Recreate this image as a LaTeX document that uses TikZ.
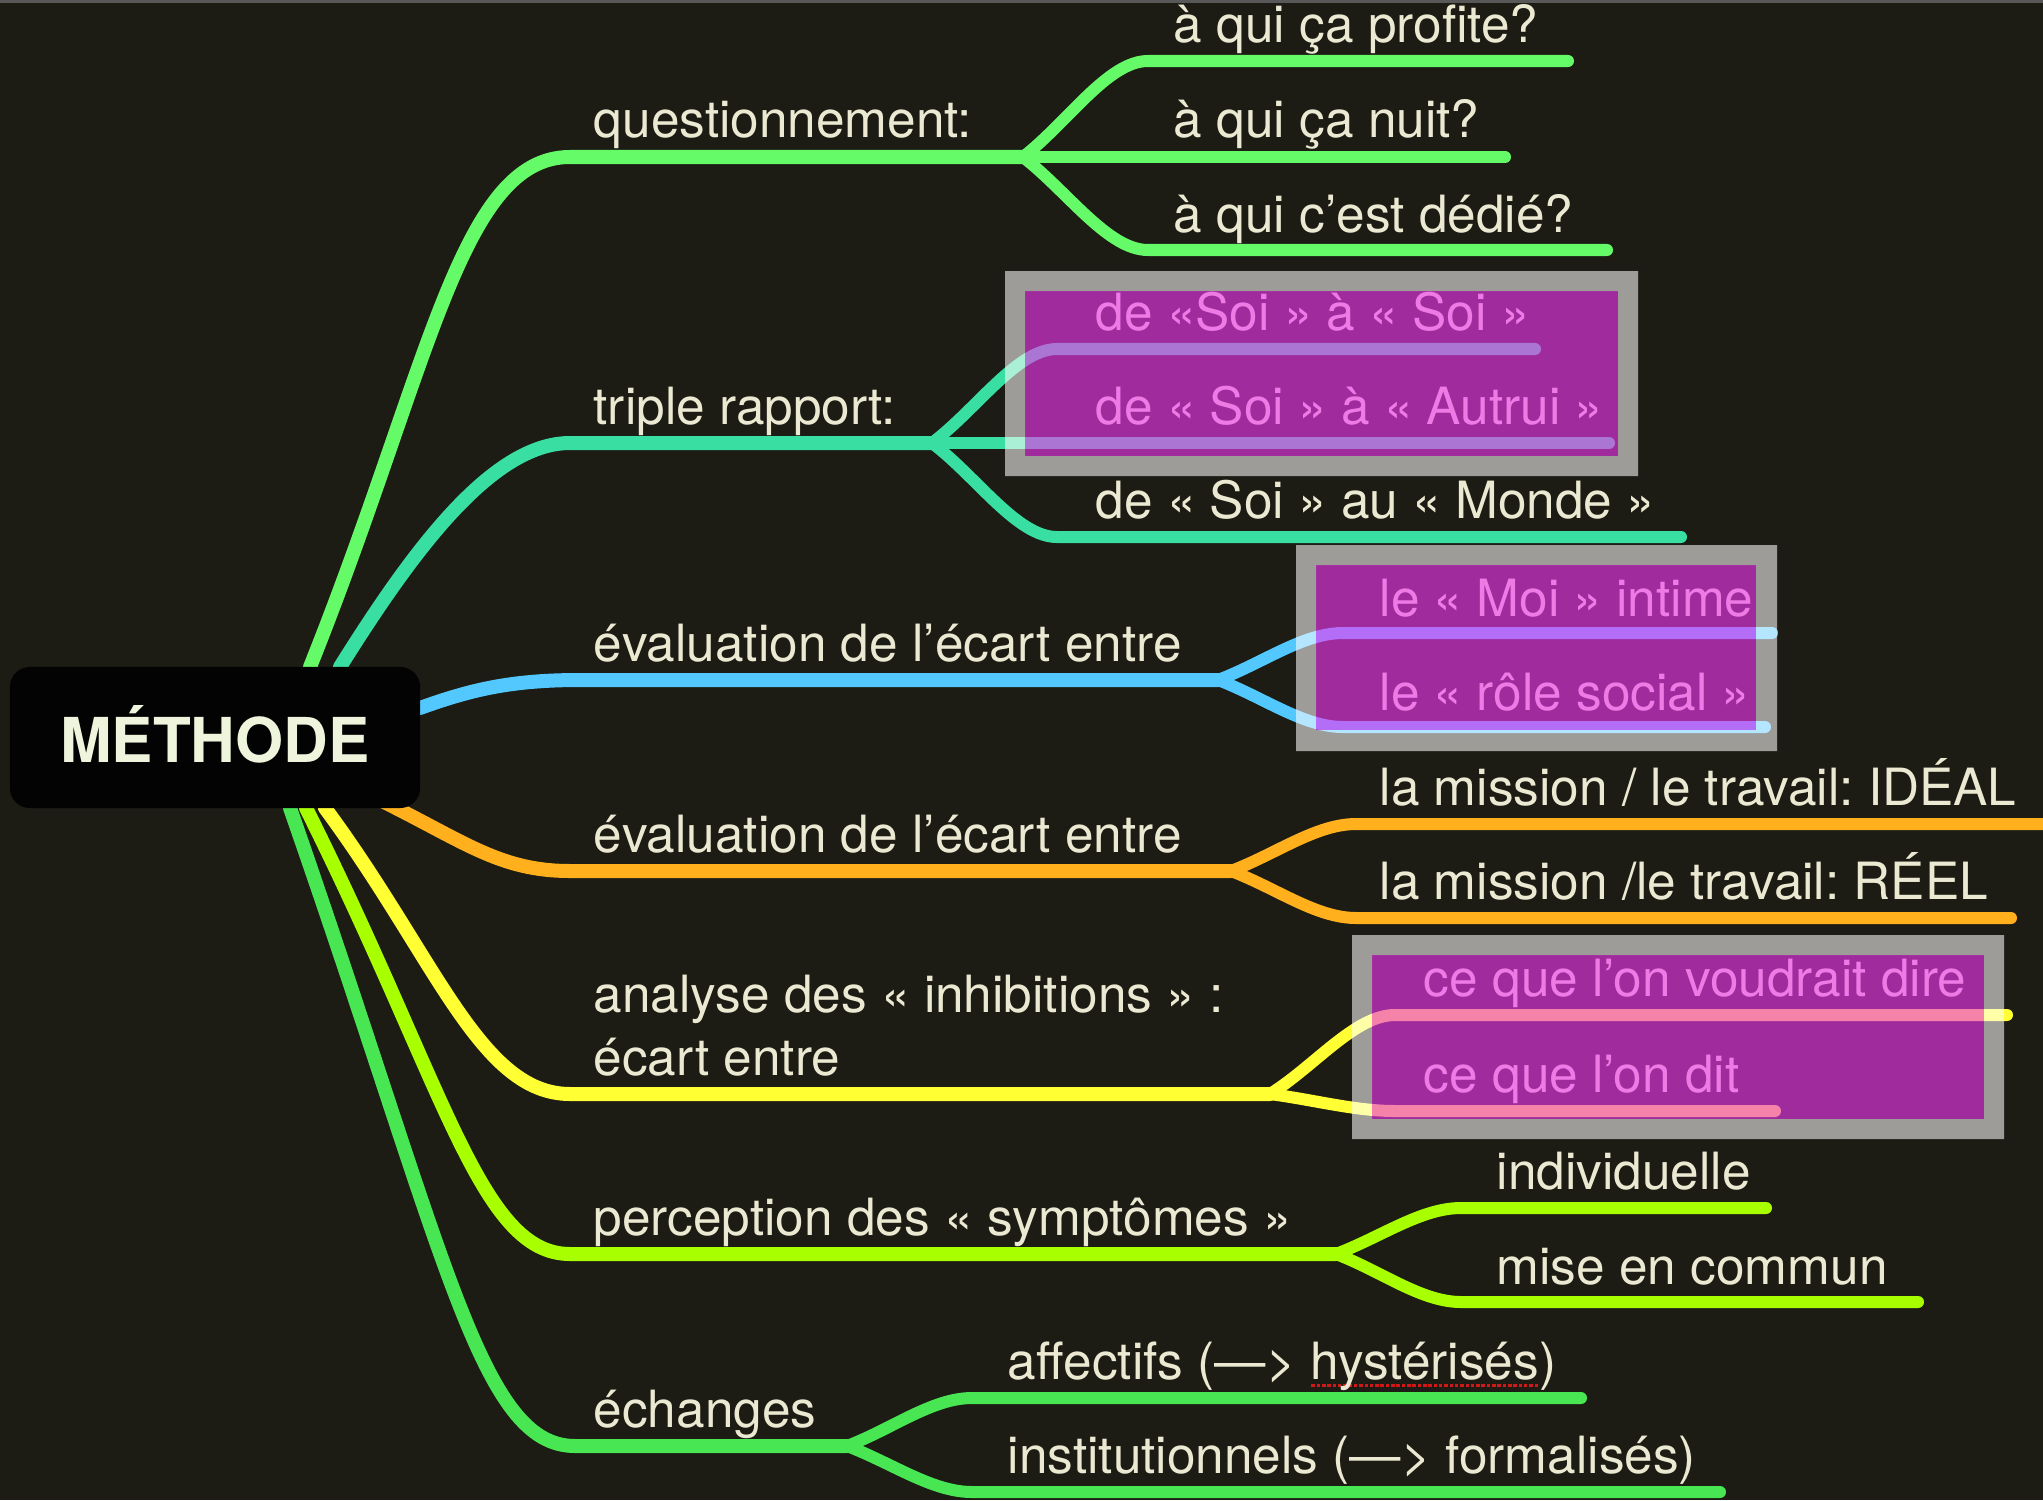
\documentclass[tikz,border=0pt]{standalone}
\usepackage{fontspec}
\setmainfont{TeX Gyre Heros}
\frenchspacing

\definecolor{bg}{HTML}{1C1B14}
\definecolor{topline}{HTML}{585858}
\definecolor{cream}{HTML}{ECE9D2}
\definecolor{titlecream}{HTML}{EFF5DC}
\definecolor{rootblack}{HTML}{030303}
\definecolor{cquest}{HTML}{64FA68}
\definecolor{ctriple}{HTML}{38DEA2}
\definecolor{cecartA}{HTML}{52C8FF}
\definecolor{cecartB}{HTML}{FFB01C}
\definecolor{cinhib}{HTML}{FFFF33}
\definecolor{csympt}{HTML}{A8FF00}
\definecolor{cechang}{HTML}{48E652}
\definecolor{hlpurple}{HTML}{F036F2}
\definecolor{spellred}{HTML}{D01818}

\newcommand{\spellerr}[1]{\setbox0\hbox{#1}\rlap{\color{spellred}\raisebox{-2.4pt}{\hbox to \wd0{\xleaders\hbox to 1.5pt{\hss\rule{1pt}{1pt}\hss}\hfill}}}#1}

\begin{document}
\begin{tikzpicture}[x=0.01cm, y=-0.01cm,
  main/.style={line width=0.14cm, line cap=round},
  sub/.style={line width=0.12cm, line cap=round},
  lbl/.style={anchor=base west, inner sep=0pt, text=cream, font=\fontsize{14.6}{18}\selectfont},
  hlframe/.style={fill=white, opacity=0.57, even odd rule},
  hlfill/.style={fill=hlpurple, opacity=0.62}]
\useasboundingbox (0,0) rectangle (2043,1500);
\fill[bg] (0,0) rectangle (2043,1500);
\fill[topline] (0,0) rectangle (2043,3);

\coordinate (r1) at (310,667);
\coordinate (r2) at (340,667);
\coordinate (r3) at (420,708);
\coordinate (r4) at (380,800);
\coordinate (r5) at (325,808);
\coordinate (r6) at (306,808);
\coordinate (r7) at (290,808);

\coordinate (quest) at (1023,157);
\coordinate (profite) at (1568,61);
\coordinate (nuit) at (1505,157);
\coordinate (dedie) at (1607,250);
\path[draw,main,cquest] (r1) .. controls (430,367) and (460,157) .. (570,157) -- (quest);
\path[draw,sub,cquest] (quest) .. controls (1068,122) and (1108,61) .. (1148,61) -- (profite);
\path[draw,sub,cquest] (quest) -- (nuit);
\path[draw,sub,cquest] (quest) .. controls (1068,192) and (1108,250) .. (1148,250) -- (dedie);

\coordinate (triple) at (932,443);
\coordinate (soi) at (1535,349);
\coordinate (autrui) at (1609,443);
\coordinate (monde) at (1681,537);
\path[draw,main,ctriple] (r2) .. controls (409,557) and (490,443) .. (570,443) -- (triple);
\path[draw,sub,ctriple] (triple) .. controls (977,409) and (1017,349) .. (1057,349) -- (soi);
\path[draw,sub,ctriple] (triple) -- (autrui);
\path[draw,sub,ctriple] (triple) .. controls (977,477) and (1017,537) .. (1057,537) -- (monde);

\coordinate (ecartA) at (1218,680);
\coordinate (moi) at (1772,633);
\coordinate (role) at (1765,727);
\path[draw,main,cecartA] (r3) .. controls (470,690) and (510,680) .. (580,680) -- (ecartA);
\path[draw,sub,cecartA] (ecartA) .. controls (1263,663) and (1303,633) .. (1343,633) -- (moi);
\path[draw,sub,cecartA] (ecartA) .. controls (1263,697) and (1303,727) .. (1343,727) -- (role);

\coordinate (ecartB) at (1231,871);
\coordinate (ideal) at (2060,824);
\coordinate (reel) at (2011,918);
\path[draw,main,cecartB] (r4) .. controls (465,842) and (500,871) .. (570,871) -- (ecartB);
\path[draw,sub,cecartB] (ecartB) .. controls (1276,854) and (1316,824) .. (1356,824) -- (ideal);
\path[draw,sub,cecartB] (ecartB) .. controls (1276,888) and (1316,918) .. (1356,918) -- (reel);

\coordinate (inhib) at (1270,1094);
\coordinate (voudrait) at (2007,1015);
\coordinate (dit) at (1775,1111);
\path[draw,main,cinhib] (r5) .. controls (436,958) and (480,1094) .. (570,1094) -- (inhib);
\path[draw,sub,cinhib] (inhib) .. controls (1315,1066) and (1355,1015) .. (1395,1015) -- (voudrait);
\path[draw,sub,cinhib] (inhib) .. controls (1315,1100) and (1355,1111) .. (1395,1111) -- (dit);

\coordinate (sympt) at (1336,1254);
\coordinate (indiv) at (1766,1208);
\coordinate (commun) at (1918,1302);
\path[draw,main,csympt] (r6) .. controls (446,1088) and (480,1254) .. (570,1254) -- (sympt);
\path[draw,sub,csympt] (sympt) .. controls (1381,1237) and (1421,1208) .. (1461,1208) -- (indiv);
\path[draw,sub,csympt] (sympt) .. controls (1381,1271) and (1421,1302) .. (1461,1302) -- (commun);

\coordinate (echang) at (847,1446);
\coordinate (affect) at (1581,1398);
\coordinate (instit) at (1720,1492);
\path[draw,main,cechang] (r7) .. controls (447,1258) and (480,1446) .. (575,1446) -- (echang);
\path[draw,sub,cechang] (echang) .. controls (892,1429) and (932,1398) .. (972,1398) -- (affect);
\path[draw,sub,cechang] (echang) .. controls (892,1463) and (932,1492) .. (972,1492) -- (instit);

\node[lbl] (tquest) at (593,138) {questionnement:};
\node[lbl] (ttriple) at (593,424) {triple rapport:};
\node[lbl] (tecartA) at (593,661) {évaluation de l’écart entre};
\node[lbl] (tecartB) at (593,852) {évaluation de l’écart entre};
\node[lbl] (tinhib) at (593,1012) {analyse des « inhibitions » :};
\node[lbl] (tinhibb) at (593,1075) {écart entre};
\node[lbl] (tsympt) at (593,1235) {perception des « symptômes »};
\node[lbl] (techang) at (593,1427) {échanges};

\node[lbl] (tprofite) at (1173,43) {à qui ça profite?};
\node[lbl] (tnuit) at (1173,138) {à qui ça nuit?};
\node[lbl] (tdedie) at (1173,232) {à qui c’est dédié?};
\node[lbl] (tsoi) at (1095,330) {de «Soi » à « Soi »};
\node[lbl] (tautrui) at (1095,424) {de « Soi » à « Autrui »};
\node[lbl] (tmonde) at (1095,518) {de « Soi » au « Monde »};
\node[lbl] (tmoi) at (1379,616) {le « Moi » intime};
\node[lbl] (trole) at (1379,710) {le « rôle social »};
\node[lbl] (tideal) at (1379,805) {la mission / le travail: IDÉAL};
\node[lbl] (treel) at (1379,899) {la mission /le travail: RÉEL};
\node[lbl] (tvoudrait) at (1423,996) {ce que l’on voudrait dire};
\node[lbl] (tdit) at (1423,1092) {ce que l’on dit};
\node[lbl] (tindiv) at (1496,1189) {individuelle};
\node[lbl] (tcommun) at (1496,1284) {mise en commun};
\node[lbl] (taffect) at (1007,1379) {affectifs (—> \spellerr{hystérisés})};
\node[lbl] (tinstit) at (1007,1473) {institutionnels (—> formalisés)};

\node[fill=rootblack, rounded corners=0.2cm, minimum width=4.1cm, minimum height=1.41cm, inner sep=0pt, text height=0.5cm, text depth=0pt, text=titlecream, font=\bfseries\fontsize{17.6}{20}\selectfont] (root) at (215,737.5) {MÉTHODE};

\path[hlframe] (1005,271) rectangle (1638,476) (1025,291) rectangle (1618,456);
\path[hlfill] (1025,291) rectangle (1618,456);
\path[hlframe] (1296,545) rectangle (1777,751) (1316,565) rectangle (1756,730);
\path[hlfill] (1316,565) rectangle (1756,730);
\path[hlframe] (1352,935) rectangle (2004,1139) (1372,955) rectangle (1984,1119);
\path[hlfill] (1372,955) rectangle (1984,1119);
\end{tikzpicture}
\end{document}
